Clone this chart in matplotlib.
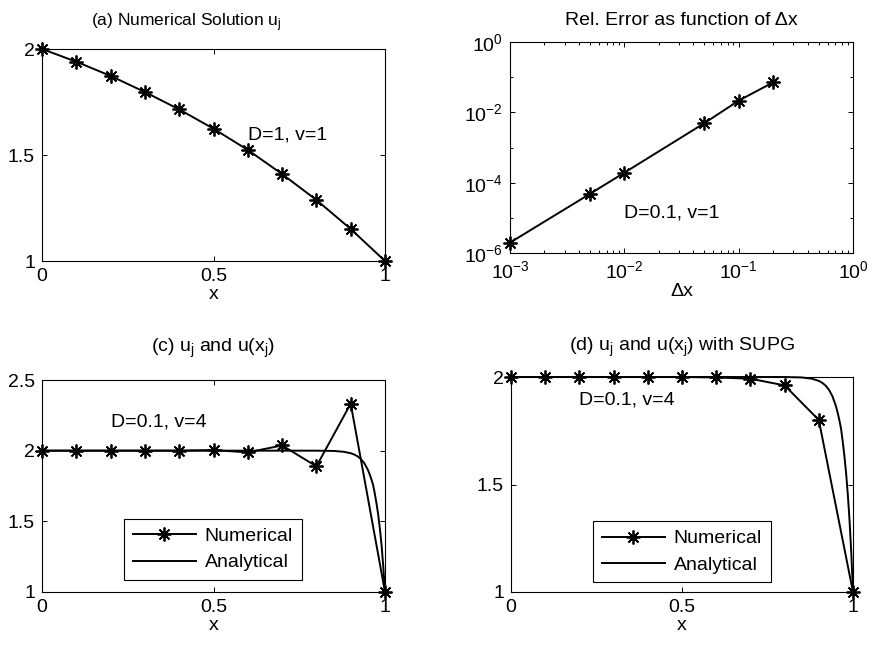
import numpy as np
import matplotlib
matplotlib.use('Agg')
import matplotlib.pyplot as plt
from matplotlib.ticker import FuncFormatter, LogLocator, NullFormatter

FS = 14       # tick labels, labels, notes, legend, titles
FS_A = 12.5   # narrower title of panel (a)

plt.rcParams['font.family'] = ['Liberation Sans', 'DejaVu Sans']
plt.rcParams['font.size'] = FS
plt.rcParams['mathtext.fontset'] = 'custom'
plt.rcParams['mathtext.rm'] = 'Liberation Sans'
plt.rcParams['mathtext.it'] = 'Liberation Sans:italic'

# grid nodes x_j
xj = [0.0, 0.1, 0.2, 0.3, 0.4, 0.5, 0.6, 0.7, 0.8, 0.9, 1.0]

# (a) D=1, v=1
u_a = [2.0, 1.94, 1.873, 1.797, 1.715, 1.624, 1.524, 1.41, 1.288, 1.151, 1.0]

# (b) convergence study, D=0.1, v=1
dx = [0.001, 0.005, 0.01, 0.05, 0.1, 0.2]
rel_err = [1.97e-6, 4.8e-5, 1.92e-4, 4.9e-3, 2.15e-2, 7.1e-2]

# (c) central Galerkin, D=0.1, v=4
u_c = [2.0, 2.0, 2.0, 2.0, 2.0, 2.004, 1.988, 2.037, 1.889, 2.333, 1.0]

# (d) SUPG, D=0.1, v=4
u_d = [2.0, 2.0, 2.0, 2.0, 2.0, 2.0, 1.998, 1.992, 1.961, 1.80, 1.0]

# exact solution u(x), D=0.1, v=4
x_exact = [0.0, 0.8, 0.85, 0.88, 0.9, 0.91, 0.92, 0.93, 0.94, 0.95, 0.955,
           0.96, 0.965, 0.97, 0.975, 0.98, 0.985, 0.99, 0.995, 1.0]
u_exact = [2.0, 2.0, 1.998, 1.992, 1.982, 1.973, 1.96, 1.94, 1.91, 1.865, 1.835,
           1.80, 1.76, 1.70, 1.63, 1.55, 1.45, 1.33, 1.18, 1.0]

W, H = 872.0, 650.0
star = (8, 2, 0)
lw = 1.4
ms = 10

def box(l, t, r, b):
    return [l / W, 1 - b / H, (r - l) / W, (b - t) / H]

def style(ax):
    ax.tick_params(which='both', direction='in', top=True, right=True,
                   labelsize=FS, width=0.7, pad=5)
    ax.tick_params(which='major', length=3.5)
    ax.tick_params(which='minor', length=2)
    for s in ax.spines.values():
        s.set_linewidth(0.8)

def legend(ax, anchor):
    leg = ax.legend(loc='center', bbox_to_anchor=anchor, fancybox=False,
                    framealpha=1, edgecolor='k', handlelength=3.25,
                    handletextpad=0.45, borderaxespad=0, borderpad=0.45,
                    labelspacing=0.45, fontsize=FS)
    leg.get_frame().set_linewidth(0.8)

fmt = FuncFormatter(lambda v, p: '%g' % v)

fig = plt.figure(figsize=(W / 100, H / 100), dpi=100)

# (a)
ax = fig.add_axes(box(42, 49, 385, 261))
ax.plot(xj, u_a, 'k-', marker=star, ms=ms, lw=lw, mew=1.3, clip_on=False)
ax.set_xlim(0, 1)
ax.set_ylim(1, 2)
ax.set_xticks([0, 0.5, 1])
ax.set_yticks([1, 1.5, 2])
ax.xaxis.set_major_formatter(fmt)
ax.yaxis.set_major_formatter(fmt)
ax.text(0.6, 1.594, 'D=1, v=1', va='center', ha='left')
ax.text(0.42, 1.105, r'(a) Numerical Solution u$_\mathregular{j}$', fontsize=FS_A,
        transform=ax.transAxes, ha='center', va='baseline')
ax.set_xlabel('x', labelpad=1)
style(ax)

# (b)
ax = fig.add_axes(box(510, 42, 853, 253))
ax.loglog(dx, rel_err, 'k-', marker=star, ms=ms, lw=lw, mew=1.3, clip_on=False)
ax.set_xlim(1e-3, 1)
ax.set_ylim(1e-6, 1)
ax.set_xticks([1e-3, 1e-2, 1e-1, 1])
ax.set_yticks([1e-6, 1e-4, 1e-2, 1])
ax.xaxis.set_minor_locator(LogLocator(base=10, subs=np.arange(2, 10)))
ax.yaxis.set_minor_locator(LogLocator(base=10, subs=[1.0], numticks=20))
ax.xaxis.set_minor_formatter(NullFormatter())
ax.yaxis.set_minor_formatter(NullFormatter())
ax.text(0.01, 1.4e-5, 'D=0.1, v=1', va='center', ha='left')
ax.text(0.5, 1.08, 'Rel. Error as function of \u0394x',
        transform=ax.transAxes, ha='center', va='baseline')
ax.set_xlabel('\u0394x', labelpad=1)
style(ax)

# (c)
ax = fig.add_axes(box(42, 380, 385, 592))
ax.plot(xj, u_c, 'k-', marker=star, ms=ms, lw=lw, mew=1.3, clip_on=False,
        label='Numerical')
ax.plot(x_exact, u_exact, 'k-', lw=lw, clip_on=False, label='Analytical')
ax.set_xlim(0, 1)
ax.set_ylim(1, 2.5)
ax.set_xticks([0, 0.5, 1])
ax.set_yticks([1, 1.5, 2, 2.5])
ax.xaxis.set_major_formatter(fmt)
ax.yaxis.set_major_formatter(fmt)
ax.text(0.2, 2.205, 'D=0.1, v=4', va='center', ha='left')
ax.text(0.5, 1.131, r'(c) u$_\mathregular{j}$ and u(x$_\mathregular{j}$)',
        transform=ax.transAxes, ha='center', va='baseline')
ax.set_xlabel('x', labelpad=1)
legend(ax, (0.2245, 0.0613, 0.548, 0.279))
style(ax)

# (d)
ax = fig.add_axes(box(511, 377, 853, 592))
ax.plot(xj, u_d, 'k-', marker=star, ms=ms, lw=lw, mew=1.3, clip_on=False,
        label='Numerical')
ax.plot(x_exact, u_exact, 'k-', lw=lw, clip_on=False, label='Analytical')
ax.set_xlim(0, 1)
ax.set_ylim(1, 2)
ax.set_xticks([0, 0.5, 1])
ax.set_yticks([1, 1.5, 2])
ax.xaxis.set_major_formatter(fmt)
ax.yaxis.set_major_formatter(fmt)
ax.text(0.198, 1.893, 'D=0.1, v=4', va='center', ha='left')
ax.text(0.5, 1.122, r'(d) u$_\mathregular{j}$ and u(x$_\mathregular{j}$) with SUPG',
        transform=ax.transAxes, ha='center', va='baseline')
ax.set_xlabel('x', labelpad=1)
legend(ax, (0.224, 0.048, 0.551, 0.279))
style(ax)

fig.savefig('out.png', dpi=100)
